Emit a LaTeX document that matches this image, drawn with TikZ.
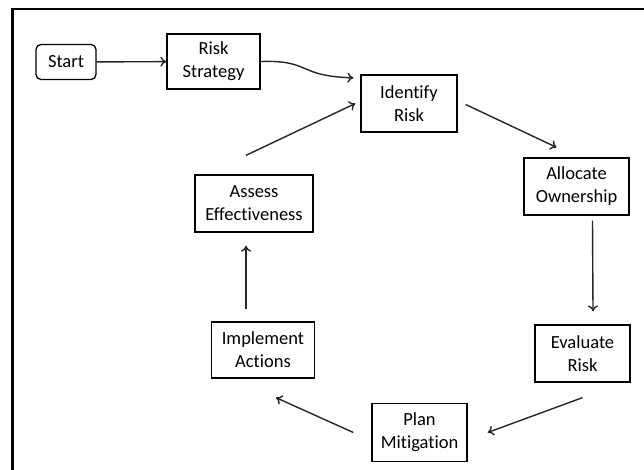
\documentclass[tikz,border=0pt]{standalone}
\usepackage{fontspec}
\setmainfont[Ligatures={NoCommon}]{Carlito}
\usetikzlibrary{arrows.meta,calc}
\begin{document}
\begin{tikzpicture}[x=1pt,y=-1pt,
  box/.style={draw=black,line width=1.3pt,fill=white,align=center,inner sep=0pt,
    font=\fontsize{18.5}{23}\selectfont},
  arr/.style={draw=black!85,line width=1.4pt,-{To[length=6pt,width=10pt]}}]
\useasboundingbox (0,0) rectangle (644,470);
% partial frame
\draw[line width=2.6pt,line cap=rect] (644,9) -- (12.5,9) -- (12.5,470);
% process steps
\node[box,rounded corners=5pt,minimum width=60pt,minimum height=35pt] (start) at (66,62) {Start};
\node[box,minimum width=93pt,minimum height=55pt] (strat) at (213.5,61.5) {Risk\\Strategy};
\node[box,minimum width=96pt,minimum height=57pt] (ident) at (409,103.5) {Identify\\Risk};
\node[box,minimum width=105pt,minimum height=57pt] (alloc) at (576.5,186.5) {Allocate\\Ownership};
\node[box,minimum width=95pt,minimum height=57pt] (eval) at (582.5,353.5) {Evaluate\\Risk};
\node[box,minimum width=95pt,minimum height=58pt] (plan) at (419.5,432.5) {Plan\\Mitigation};
\node[box,minimum width=103pt,minimum height=56pt] (impl) at (263,350) {Implement\\Actions};
\node[box,minimum width=118pt,minimum height=57pt] (assess) at (254,203.5) {Assess\\Effectiveness};
% free ends of the cycle arrows
\coordinate (i1) at ($(ident.east)+(8,1)$);
\coordinate (a0) at ($(alloc.north)+(-20,-10)$);
\coordinate (a1) at ($(alloc.south)+(16,5)$);
\coordinate (e0) at ($(eval.north)+(10.5,-13)$);
\coordinate (e1) at ($(eval.south)+(0,15)$);
\coordinate (p0) at ($(plan.east)+(20,0)$);
\coordinate (p1) at ($(plan.west)+(-18,0)$);
\coordinate (m0) at ($(impl.south)+(13,19)$);
\coordinate (m1) at ($(impl.north)+(-17,-12)$);
\coordinate (s0) at ($(assess.south)+(-8,13)$);
\coordinate (s1) at ($(assess.north)+(-8,-19)$);
\coordinate (d0) at ($(ident.west)+(-5,0)$);
\coordinate (r1) at ($(ident.north west)+(-7,3.5)$);
% connectors
\draw[arr] (start) -- (strat);
\draw[arr] (strat.east) .. controls (312,60) and (296,76) .. (r1);
\draw[arr] (i1) -- (a0);
\draw[arr] (a1) -- (e0);
\draw[arr] (e1) -- (p0);
\draw[arr] (p1) -- (m0);
\draw[arr] (m1) -- (s0);
\draw[arr] (s1) -- (d0);
\end{tikzpicture}
\end{document}
